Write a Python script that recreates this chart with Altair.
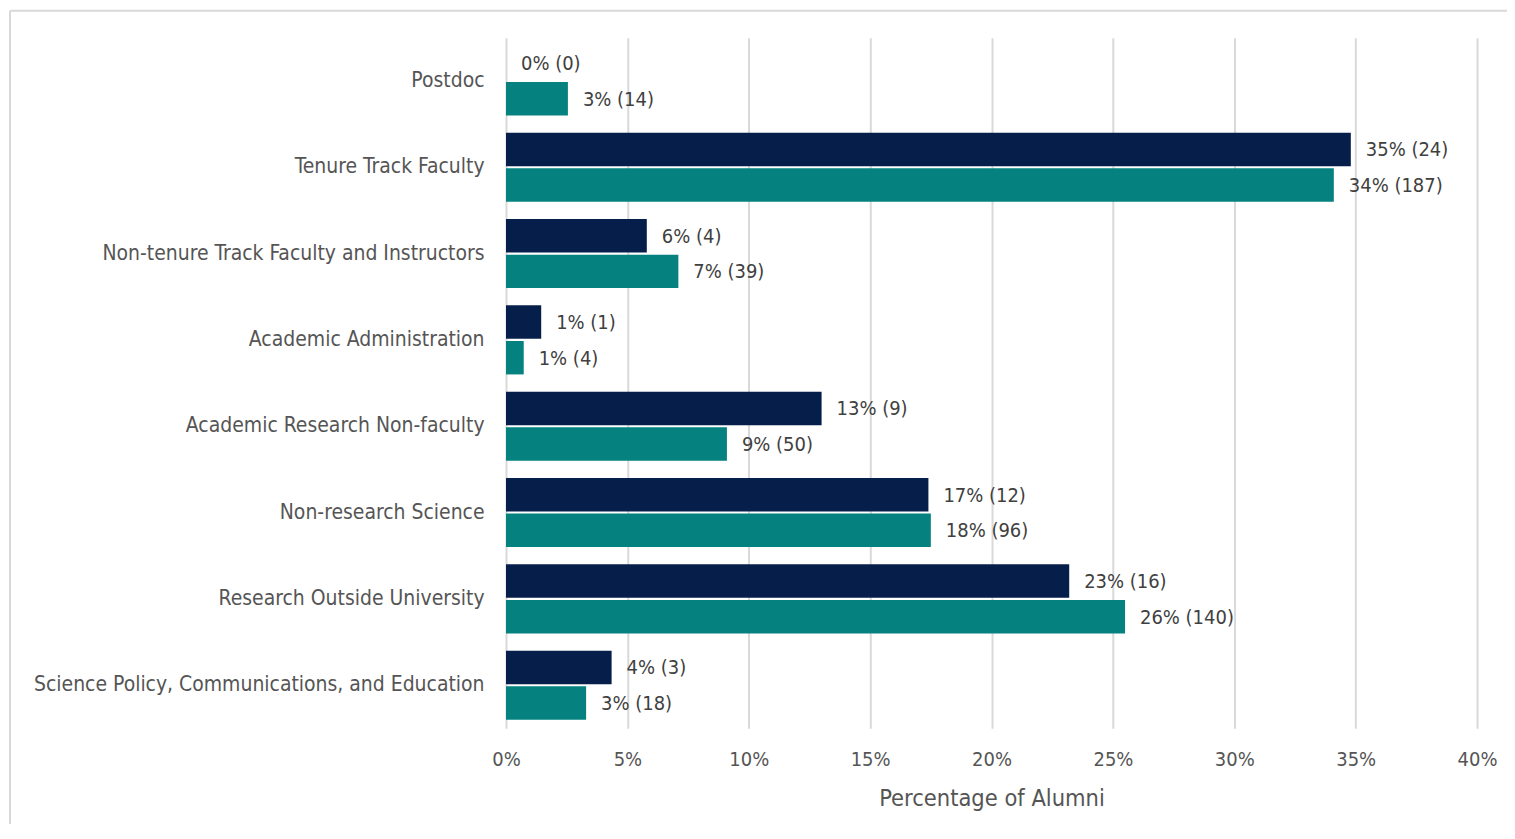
import altair as alt
import pandas as pd

categories = [
    "Postdoc",
    "Tenure Track Faculty",
    "Non-tenure Track Faculty and Instructors",
    "Academic Administration",
    "Academic Research Non-faculty",
    "Non-research Science",
    "Research Outside University",
    "Science Policy, Communications, and Education",
]
series_names = ["Program Alumni", "Comparison Alumni"]

navy_pct = [0.0, 34.8, 5.8, 1.45, 13.0, 17.4, 23.2, 4.35]
navy_label_pct = [0, 35, 6, 1, 13, 17, 23, 4]
navy_count = [0, 24, 4, 1, 9, 12, 16, 3]

teal_pct = [2.55, 34.1, 7.1, 0.73, 9.1, 17.5, 25.5, 3.3]
teal_label_pct = [3, 34, 7, 1, 9, 18, 26, 3]
teal_count = [14, 187, 39, 4, 50, 96, 140, 18]

x_ticks = [0, 5, 10, 15, 20, 25, 30, 35, 40]

rows = []
for i, c in enumerate(categories):
    rows.append({"category": c, "series": series_names[0], "pct": navy_pct[i] / 100,
                 "label": f"{navy_label_pct[i]}% ({navy_count[i]})"})
    rows.append({"category": c, "series": series_names[1], "pct": teal_pct[i] / 100,
                 "label": f"{teal_label_pct[i]}% ({teal_count[i]})"})
df = pd.DataFrame(rows)

FONT = "DejaVu Sans Condensed, Liberation Sans, sans-serif"

y_enc = alt.Y("category:N", sort=categories, title=None,
              scale=alt.Scale(paddingInner=0.2, paddingOuter=0.1),
              axis=alt.Axis(labelFont=FONT, labelFontSize=21, labelColor="#555555",
                            labelPadding=22, ticks=False, domain=False, grid=False,
                            labelLimit=600))
yoff = alt.YOffset("series:N", sort=series_names,
                   scale=alt.Scale(paddingInner=0.06))
x_enc = alt.X("pct:Q", title="Percentage of Alumni",
              scale=alt.Scale(domain=[0, 0.4], nice=False),
              axis=alt.Axis(format=".0%", values=[v / 100 for v in x_ticks],
                            labelFont=FONT, labelFontSize=20, labelColor="#555555",
                            labelPadding=21, labelFlush=False,
                            titleFont=FONT, titleFontSize=23.5,
                            titleColor="#555555", titlePadding=17, titleFontWeight="normal",
                            ticks=False, domain=False, grid=True, gridColor="#d9d9d9",
                            gridWidth=2))

color_enc = alt.Color("series:N", sort=series_names, legend=None,
                      scale=alt.Scale(domain=series_names, range=["#061f4a", "#05827f"]))

bars = alt.Chart(df).mark_bar().encode(
    y=y_enc, yOffset=yoff, x=x_enc, color=color_enc
)

labels = alt.Chart(df).mark_text(
    align="left", baseline="middle", dx=15, dy=1, font=FONT, fontSize=20, color="#404040"
).encode(
    y=alt.Y("category:N", sort=categories), yOffset=yoff, x="pct:Q", text="label:N"
)

frame_df = pd.DataFrame({"k": [0]})
top_line = alt.Chart(frame_df).mark_rule(color="#d9d9d9", strokeWidth=2).encode(
    x=alt.value(-497), x2=alt.value(1030), y=alt.value(-27)
)
left_line = alt.Chart(frame_df).mark_rule(color="#d9d9d9", strokeWidth=2).encode(
    x=alt.value(-497), y=alt.value(-27), y2=alt.value(830)
)

chart = alt.layer(bars, labels, top_line, left_line).properties(
    width=973, height=692,
    autosize=alt.AutoSizeParams(type="none"),
    padding={"left": 499, "top": 29, "right": 30, "bottom": 95},
).configure(background="white", view=alt.ViewConfig(stroke=None))

chart.save("out.html", embed_options={"renderer": "svg", "actions": False})
